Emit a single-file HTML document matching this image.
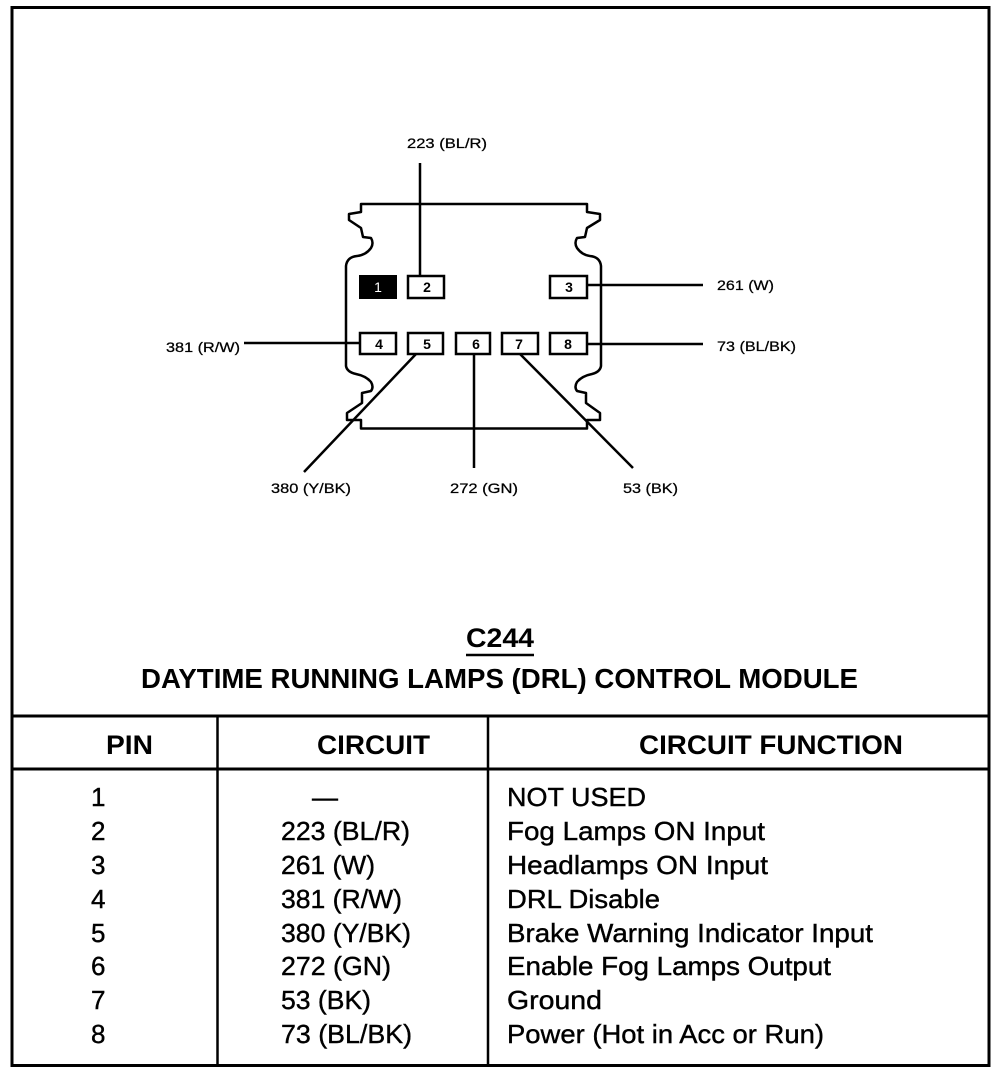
<!DOCTYPE html>
<html><head><meta charset="utf-8"><style>
html,body{margin:0;padding:0;background:#fff}
svg{display:block}
text{font-family:"Liberation Sans",sans-serif;fill:#000}
.s{font-size:14px;stroke:#000;stroke-width:.25}
.n{font-size:14px;font-weight:bold;text-anchor:middle}
.t{font-size:26px;stroke:#000;stroke-width:.4}
.h{font-size:27px;font-weight:bold}
</style></head><body>
<svg width="1008" height="1074" viewBox="0 0 1008 1074" xmlns="http://www.w3.org/2000/svg">
<rect width="1008" height="1074" fill="#fff"/>
<g fill="none" stroke="#000">
<path d="M12 7.500H989V1065.500H12Z" stroke-width="3"/>
<path d="M12 716H989M12 769H989" stroke-width="3"/>
<path d="M217.500 716V1065M488 716V1065" stroke-width="2.500"/>
<path d="M361 204H587V212L600 214V220L587 228L585 237L577 238Q574 243 577 248Q582 255 590 256Q600 257 601 266V366Q600 372 592 374Q582 376 577 382Q574 387 577 391L586 393V403L600 413V420H587V428.500H361V420H347V413L362 403V393L371 391Q374 387 371 382Q366 376 356 374Q347 372 346 366V266Q347 257 357 256Q366 255 371 248Q374 243 371 238L363 237L361 228L349 220V214L361 212Z" stroke-width="2.500" stroke-linejoin="round"/>
<g stroke-width="2.500">
<path d="M420 163V275M587 285H703M244 343H359M587 344H703M474 354V468M416 354L304 472M520 354L633 468"/>
<rect x="408" y="276" width="36" height="22"/>
<rect x="550" y="276" width="37" height="22"/>
<rect x="360" y="333" width="36" height="21"/>
<rect x="408" y="333" width="35" height="21"/>
<rect x="456" y="333" width="34" height="21"/>
<rect x="502" y="333" width="36" height="21"/>
<rect x="550" y="333" width="37" height="21"/>
</g>
<path d="M466 655H534" stroke-width="2.500"/>
</g>
<rect x="359" y="275" width="38" height="24" fill="#000"/>
<text class="n" x="378" y="292" style="fill:#fff;font-weight:normal">1</text>
<text class="n" x="427" y="292">2</text>
<text class="n" x="569" y="292">3</text>
<text class="n" x="379" y="349">4</text>
<text class="n" x="427" y="349">5</text>
<text class="n" x="476" y="349">6</text>
<text class="n" x="519" y="349">7</text>
<text class="n" x="568" y="349">8</text>
<text class="s" x="407" y="148" textLength="80" lengthAdjust="spacingAndGlyphs">223 (BL/R)</text>
<text class="s" x="717" y="290" textLength="57" lengthAdjust="spacingAndGlyphs">261 (W)</text>
<text class="s" x="717" y="351" textLength="79" lengthAdjust="spacingAndGlyphs">73 (BL/BK)</text>
<text class="s" x="166" y="352" textLength="74" lengthAdjust="spacingAndGlyphs">381 (R/W)</text>
<text class="s" x="271" y="493" textLength="80" lengthAdjust="spacingAndGlyphs">380 (Y/BK)</text>
<text class="s" x="450" y="493" textLength="68" lengthAdjust="spacingAndGlyphs">272 (GN)</text>
<text class="s" x="623" y="493" textLength="55" lengthAdjust="spacingAndGlyphs">53 (BK)</text>
<text x="466" y="647" style="font-size:27px;font-weight:bold" textLength="68" lengthAdjust="spacingAndGlyphs">C244</text>
<text x="141" y="688" style="font-size:27.500px;font-weight:bold" textLength="717" lengthAdjust="spacingAndGlyphs">DAYTIME RUNNING LAMPS (DRL) CONTROL MODULE</text>
<text class="h" x="106" y="754" textLength="47" lengthAdjust="spacingAndGlyphs">PIN</text>
<text class="h" x="317" y="754" textLength="113" lengthAdjust="spacingAndGlyphs">CIRCUIT</text>
<text class="h" x="639" y="754" textLength="264" lengthAdjust="spacingAndGlyphs">CIRCUIT FUNCTION</text>
<text class="t" x="91" y="806">1</text>
<text class="t" x="91" y="840">2</text>
<text class="t" x="91" y="874">3</text>
<text class="t" x="91" y="908">4</text>
<text class="t" x="91" y="942">5</text>
<text class="t" x="91" y="975">6</text>
<text class="t" x="91" y="1009">7</text>
<text class="t" x="91" y="1043">8</text>
<text class="t" x="312" y="806">—</text>
<text class="t" x="281" y="840" textLength="129" lengthAdjust="spacingAndGlyphs">223 (BL/R)</text>
<text class="t" x="281" y="874" textLength="94" lengthAdjust="spacingAndGlyphs">261 (W)</text>
<text class="t" x="281" y="908" textLength="121" lengthAdjust="spacingAndGlyphs">381 (R/W)</text>
<text class="t" x="281" y="942" textLength="130" lengthAdjust="spacingAndGlyphs">380 (Y/BK)</text>
<text class="t" x="281" y="975" textLength="110" lengthAdjust="spacingAndGlyphs">272 (GN)</text>
<text class="t" x="281" y="1009" textLength="90" lengthAdjust="spacingAndGlyphs">53 (BK)</text>
<text class="t" x="281" y="1043" textLength="131" lengthAdjust="spacingAndGlyphs">73 (BL/BK)</text>
<text class="t" x="507" y="806" textLength="139" lengthAdjust="spacingAndGlyphs">NOT USED</text>
<text class="t" x="507" y="840" textLength="258" lengthAdjust="spacingAndGlyphs">Fog Lamps ON Input</text>
<text class="t" x="507" y="874" textLength="261" lengthAdjust="spacingAndGlyphs">Headlamps ON Input</text>
<text class="t" x="507" y="908" textLength="153" lengthAdjust="spacingAndGlyphs">DRL Disable</text>
<text class="t" x="507" y="942" textLength="366" lengthAdjust="spacingAndGlyphs">Brake Warning Indicator Input</text>
<text class="t" x="507" y="975" textLength="324" lengthAdjust="spacingAndGlyphs">Enable Fog Lamps Output</text>
<text class="t" x="507" y="1009" textLength="95" lengthAdjust="spacingAndGlyphs">Ground</text>
<text class="t" x="507" y="1043" textLength="317" lengthAdjust="spacingAndGlyphs">Power (Hot in Acc or Run)</text>
</svg>
</body></html>
